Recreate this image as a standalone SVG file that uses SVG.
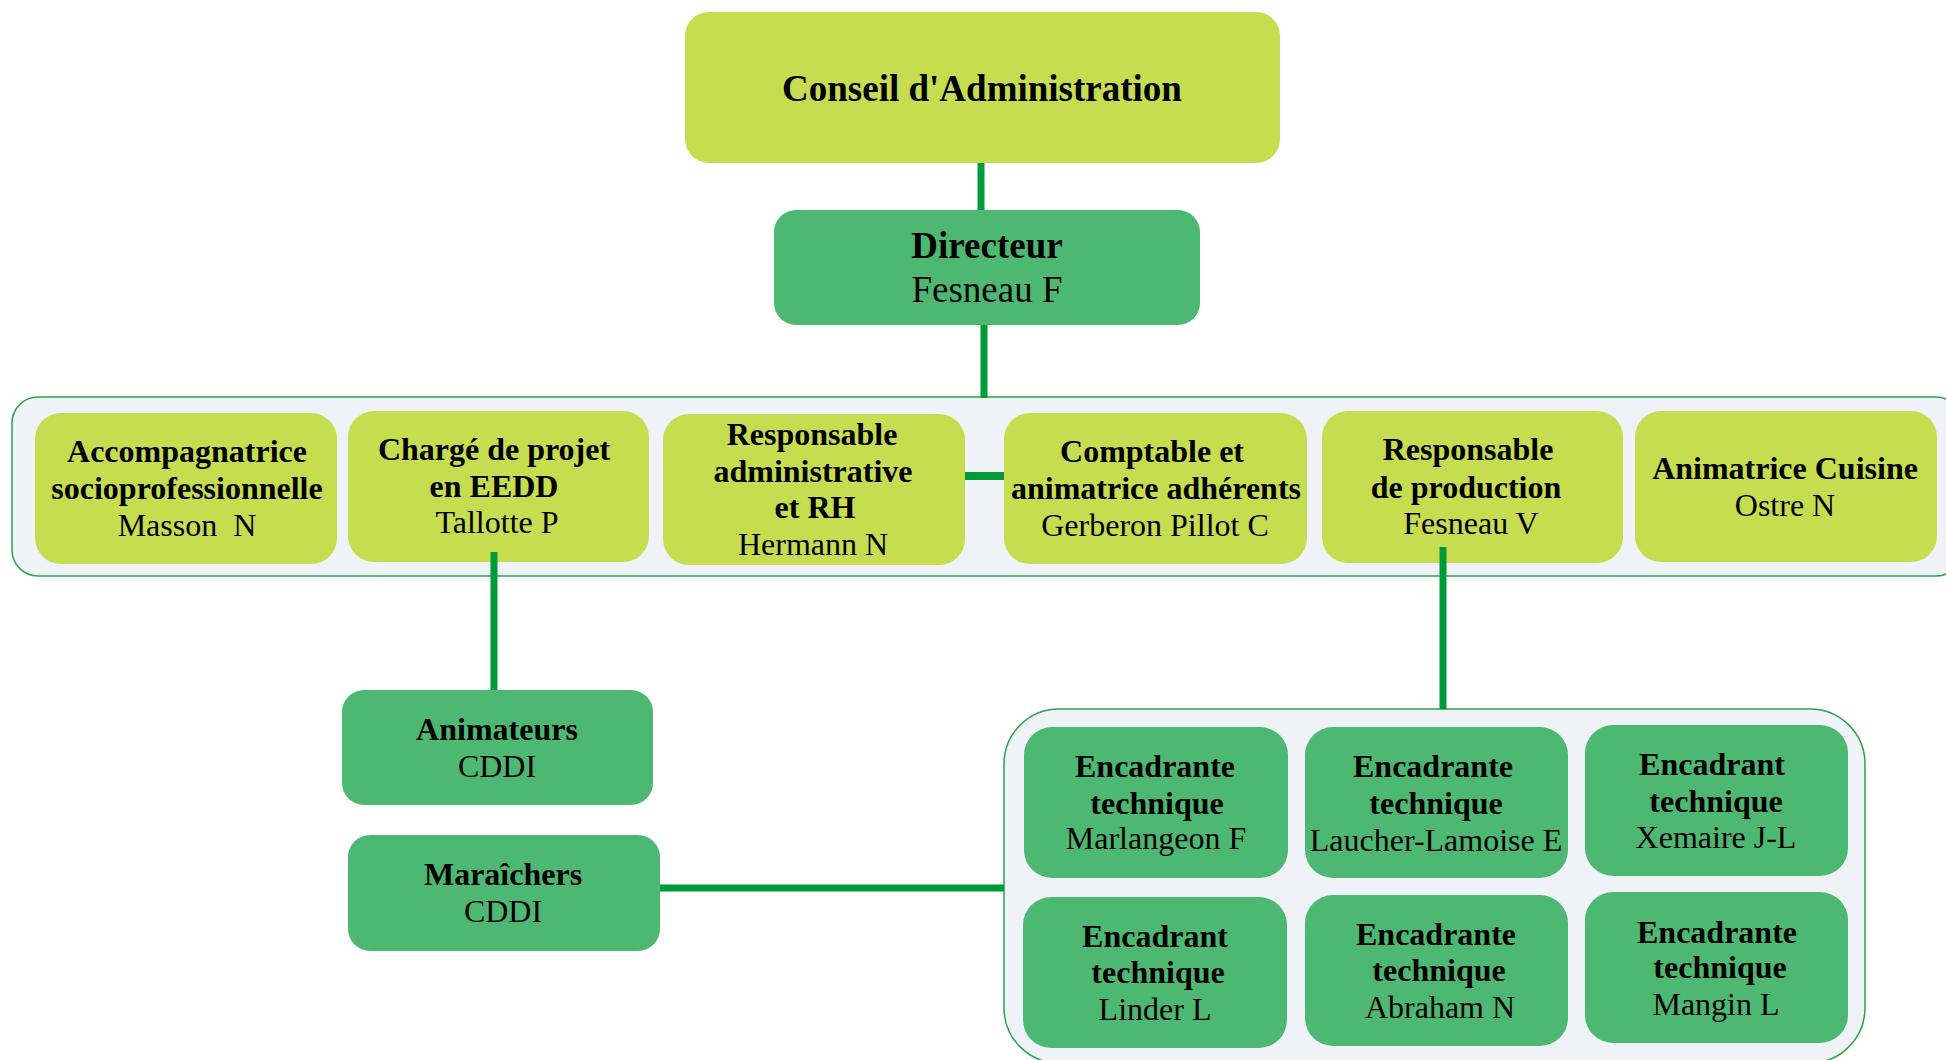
<svg xmlns="http://www.w3.org/2000/svg" width="1946" height="1060" viewBox="0 0 1946 1060">
<style>
text{font-family:"Liberation Serif","Times New Roman",serif;fill:#000;text-anchor:middle}
.b{font-weight:bold}
.f32{font-size:32px}
.f37{font-size:37px}
.lime{fill:#c6dd50}
.dg{fill:#4db872}
.grp{fill:#eff3f8;stroke:#2ea24c;stroke-width:1.5}
.con{stroke:#009a38;fill:none}
</style>
<rect width="1946" height="1060" fill="#ffffff"/>
<g id="groups">
<rect class="grp" x="12" y="397" width="1950" height="179" rx="26"/>
<rect class="grp" x="1004" y="709" width="861" height="354" rx="55"/>
</g>
<g id="connectors">
<line class="con" x1="981" y1="162" x2="981" y2="210" stroke-width="7"/>
<line class="con" x1="984" y1="325" x2="984" y2="398" stroke-width="7"/>
<line class="con" x1="965" y1="476" x2="1004" y2="476" stroke-width="8"/>
<line class="con" x1="660" y1="888" x2="1004" y2="888" stroke-width="7"/>
</g>
<g id="conseil"><rect class="lime" x="685" y="12" width="595" height="151" rx="24" fill="#c8df52"/>
<text class="b f37" x="982" y="101">Conseil d'Administration</text></g>
<g id="directeur"><rect class="dg" x="774" y="210" width="426" height="115" rx="22"/>
<text class="b f37" x="987" y="258">Directeur</text><text class="f37" x="987" y="302">Fesneau F</text></g>
<g id="accompagnatrice"><rect class="lime" x="35" y="413" width="302" height="151" rx="26"/>
<text class="b f32" x="187" y="462">Accompagnatrice</text><text class="b f32" x="187" y="499">socioprofessionnelle</text><text class="f32" x="187" y="536" xml:space="preserve">Masson  N</text></g>
<g id="charge"><rect class="lime" x="348" y="411" width="301" height="151" rx="26"/>
<text class="b f32" x="494" y="460">Chargé de projet</text><text class="b f32" x="494" y="497">en EEDD</text><text class="f32" x="497" y="533">Tallotte P</text></g>
<g id="resp-admin"><rect class="lime" x="663" y="414" width="302" height="151" rx="26"/>
<text class="b f32" x="812" y="445">Responsable</text><text class="b f32" x="813" y="482">administrative</text><text class="b f32" x="815" y="518">et RH</text><text class="f32" x="813" y="555">Hermann N</text></g>
<g id="comptable"><rect class="lime" x="1004" y="413" width="303" height="151" rx="26"/>
<text class="b f32" x="1152" y="462">Comptable et</text><text class="b f32" x="1156" y="499">animatrice adhérents</text><text class="f32" x="1155" y="536">Gerberon Pillot C</text></g>
<g id="resp-prod"><rect class="lime" x="1322" y="411" width="301" height="152" rx="26"/>
<text class="b f32" x="1468" y="460">Responsable</text><text class="b f32" x="1466" y="498">de production</text><text class="f32" x="1471" y="534">Fesneau V</text></g>
<g id="animatrice-cuisine"><rect class="lime" x="1635" y="411" width="302" height="151" rx="26"/>
<text class="b f32" x="1785" y="479">Animatrice Cuisine</text><text class="f32" x="1785" y="516">Ostre N</text></g>
<g id="connectors2">
<line class="con" x1="494" y1="552" x2="494" y2="690" stroke-width="7"/>
<line class="con" x1="1443" y1="547" x2="1443" y2="709" stroke-width="7"/>
</g>
<g id="animateurs"><rect class="dg" x="342" y="690" width="311" height="115" rx="22"/>
<text class="b f32" x="497" y="740">Animateurs</text><text class="f32" x="497" y="777">CDDI</text></g>
<g id="maraichers"><rect class="dg" x="348" y="835" width="312" height="116" rx="22"/>
<text class="b f32" x="503" y="885">Maraîchers</text><text class="f32" x="503" y="922">CDDI</text></g>
<g id="enc-marlangeon"><rect class="dg" x="1024" y="727" width="264" height="151" rx="28"/>
<text class="b f32" x="1155" y="777">Encadrante</text><text class="b f32" x="1157" y="814">technique</text><text class="f32" x="1156" y="849">Marlangeon F</text></g>
<g id="enc-laucher"><rect class="dg" x="1305" y="727" width="263" height="151" rx="28"/>
<text class="b f32" x="1433" y="777">Encadrante</text><text class="b f32" x="1436" y="814">technique</text><text class="f32" x="1436" y="851">Laucher-Lamoise E</text></g>
<g id="enc-xemaire"><rect class="dg" x="1585" y="725" width="263" height="151" rx="28"/>
<text class="b f32" x="1712" y="775">Encadrant</text><text class="b f32" x="1716" y="812">technique</text><text class="f32" x="1716" y="848">Xemaire J-L</text></g>
<g id="enc-linder"><rect class="dg" x="1023" y="897" width="264" height="151" rx="28"/>
<text class="b f32" x="1155" y="947">Encadrant</text><text class="b f32" x="1158" y="983">technique</text><text class="f32" x="1155" y="1020">Linder L</text></g>
<g id="enc-abraham"><rect class="dg" x="1305" y="895" width="263" height="151" rx="28"/>
<text class="b f32" x="1436" y="945">Encadrante</text><text class="b f32" x="1439" y="981">technique</text><text class="f32" x="1440" y="1018">Abraham N</text></g>
<g id="enc-mangin"><rect class="dg" x="1585" y="892" width="263" height="151" rx="28"/>
<text class="b f32" x="1717" y="943">Encadrante</text><text class="b f32" x="1720" y="978">technique</text><text class="f32" x="1716" y="1015">Mangin L</text></g>
</svg>
